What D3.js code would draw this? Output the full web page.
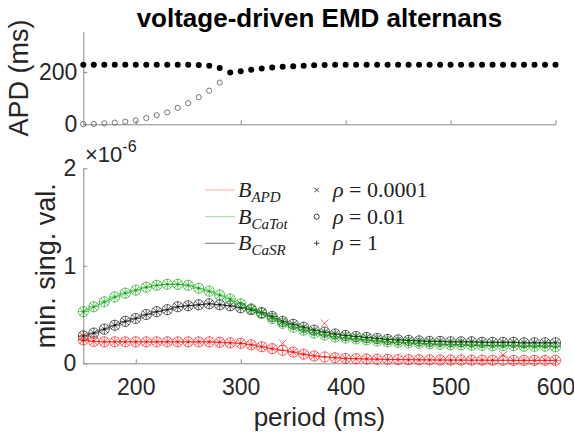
<!DOCTYPE html>
<html>
<head>
<meta charset="utf-8">
<script src="https://cdn.jsdelivr.net/npm/d3@7"></script>
<style>
  body { margin: 0; background: #fff; }
  svg { display: block; font-family: "Liberation Sans", Arial, sans-serif; }
  .axis path, .axis line { stroke: #888; }
  .axis text { fill: #262626; }
</style>
</head>
<body>
<div id="chart"></div>
<script>
// pacing periods (ms)
const periods = [150, 160, 170, 180, 190, 200, 210, 220, 230, 240,
    250, 260, 270, 280, 290, 300, 310, 320, 330, 340,
    350, 360, 370, 380, 390, 400, 410, 420, 430, 440,
    450, 460, 470, 480, 490, 500, 510, 520, 530, 540,
    550, 560, 570, 580, 590, 600];

// top panel: APD of long and short beats (ms)
const apdLong = [228, 228, 228, 228, 228, 228, 228, 228, 228, 228,
    228, 227, 224, 216, 199, 203, 209, 214, 218, 221,
    223, 224.5, 226, 227, 228, 228, 228, 228, 228, 228,
    228, 228, 228, 228, 228, 228, 228, 228, 228, 228,
    228, 228, 228, 228, 228, 228];
const shortPeriods = [150, 160, 170, 180, 190, 200, 210, 220, 230, 240, 250, 260, 270, 280];
const apdShort = [0.5, 1.5, 4, 6.5, 10, 15, 24, 35, 46, 63, 81, 104, 129, 160];

// bottom panel: minimal singular values (x 1e-6)
const bApd = [0.24, 0.225, 0.22, 0.22, 0.22, 0.22, 0.22, 0.22, 0.22, 0.22,
    0.22, 0.22, 0.22, 0.215, 0.21, 0.205, 0.19, 0.17, 0.15, 0.133,
    0.115, 0.093, 0.075, 0.065, 0.057, 0.05, 0.047, 0.044, 0.042, 0.04,
    0.038, 0.037, 0.036, 0.035, 0.034, 0.033, 0.033, 0.032, 0.032, 0.031,
    0.031, 0.03, 0.03, 0.03, 0.03, 0.03];
const bCaTot = [0.53, 0.58, 0.63, 0.68, 0.72, 0.75, 0.78, 0.80, 0.81, 0.81,
    0.80, 0.77, 0.74, 0.70, 0.66, 0.61, 0.56, 0.51, 0.46, 0.41,
    0.37, 0.34, 0.31, 0.29, 0.27, 0.26, 0.25, 0.24, 0.23, 0.22,
    0.215, 0.21, 0.205, 0.20, 0.195, 0.19, 0.19, 0.185, 0.185, 0.18,
    0.18, 0.18, 0.175, 0.175, 0.175, 0.17];
const bCaSR = [0.28, 0.31, 0.35, 0.39, 0.43, 0.46, 0.50, 0.53, 0.55, 0.58,
    0.59, 0.60, 0.61, 0.60, 0.59, 0.57, 0.55, 0.52, 0.48, 0.43,
    0.40, 0.37, 0.34, 0.32, 0.30, 0.285, 0.275, 0.265, 0.255, 0.245,
    0.24, 0.235, 0.23, 0.225, 0.225, 0.22, 0.22, 0.22, 0.215, 0.215,
    0.215, 0.215, 0.21, 0.21, 0.21, 0.21];
// rho = 0.0001 departs from the others at a few periods (B_APD only)
const lowRhoPeriods = [340, 380, 550];
const lowRhoApd = [0.205, 0.41, 0.085];

const seriesNames = ["APD", "CaTot", "CaSR"];
const seriesColors = ["#ff0000", "#00a000", "#000000"];
const rhoLabels = ["0.0001", "0.01", "1"];
const xTicks = [200, 300, 400, 500, 600];

const W = 574, H = 438;
const left = 83.3, right = 555.5;
const tickFont = 23, labelFont = 27;

const svg = d3.select("#chart").append("svg")
    .attr("width", W)
    .attr("height", H);

const x = d3.scaleLinear().domain([150, 600]).range([left, right]);
const yTop = d3.scaleLinear().domain([0, 355]).range([124.3, 31.7]);
const yBot = d3.scaleLinear().domain([0, 2]).range([363.3, 168.3]);

// title
svg.append("text")
    .attr("x", (left + right) / 2)
    .attr("y", 27)
    .attr("text-anchor", "middle")
    .attr("font-weight", "bold")
    .attr("font-size", 26)
    .attr("fill", "#000")
    .text("voltage-driven EMD alternans");

// ---- top panel ----
const topPanel = svg.append("g");

topPanel.append("g")
    .attr("class", "axis")
    .attr("transform", `translate(0, ${yTop(0)})`)
    .call(d3.axisBottom(x).tickValues(xTicks).tickSizeInner(-4).tickSizeOuter(0).tickFormat(""));

topPanel.append("g")
    .attr("class", "axis")
    .attr("transform", `translate(${left}, 0)`)
    .call(d3.axisLeft(yTop).tickValues([0, 200]).tickSizeInner(-4).tickSizeOuter(0).tickPadding(6))
    .selectAll("text").attr("font-size", tickFont);

topPanel.selectAll("circle.short")
    .data(shortPeriods)
    .enter()
    .append("circle")
    .attr("class", "short")
    .attr("cx", d => x(d))
    .attr("cy", (d, i) => yTop(apdShort[i]))
    .attr("r", 2.6)
    .attr("fill", "none")
    .attr("stroke", "#666")
    .attr("stroke-width", 0.9);

topPanel.selectAll("circle.long")
    .data(periods)
    .enter()
    .append("circle")
    .attr("class", "long")
    .attr("cx", d => x(d))
    .attr("cy", (d, i) => yTop(apdLong[i]))
    .attr("r", 3)
    .attr("fill", "#000");

svg.append("text")
    .attr("transform", `translate(28, ${(yTop.range()[0] + yTop.range()[1]) / 2}) rotate(-90)`)
    .attr("text-anchor", "middle")
    .attr("font-size", labelFont)
    .attr("fill", "#262626")
    .text("APD (ms)");

// ---- bottom panel ----
const botPanel = svg.append("g");

botPanel.append("g")
    .attr("class", "axis")
    .attr("transform", `translate(0, ${yBot(0)})`)
    .call(d3.axisBottom(x).tickValues(xTicks).tickSizeInner(-4).tickSizeOuter(0).tickPadding(15))
    .selectAll("text").attr("font-size", tickFont);

botPanel.append("g")
    .attr("class", "axis")
    .attr("transform", `translate(${left}, 0)`)
    .call(d3.axisLeft(yBot).tickValues([0, 1, 2]).tickFormat(d3.format("d"))
        .tickSizeInner(-4).tickSizeOuter(0).tickPadding(7))
    .selectAll("text").attr("font-size", tickFont);

// exponent label
const expo = svg.append("text")
    .attr("x", 85)
    .attr("y", 162)
    .attr("font-size", 22)
    .attr("fill", "#262626");
expo.append("tspan").text("×10");
expo.append("tspan").attr("font-size", 16).attr("dy", -10).text("-6");

svg.append("text")
    .attr("transform", `translate(55, ${(yBot.range()[0] + yBot.range()[1]) / 2}) rotate(-90)`)
    .attr("text-anchor", "middle")
    .attr("font-size", labelFont)
    .attr("fill", "#262626")
    .text("min. sing. val.");

svg.append("text")
    .attr("x", (left + right) / 2)
    .attr("y", 426)
    .attr("text-anchor", "middle")
    .attr("font-size", 26)
    .attr("fill", "#262626")
    .text("period (ms)");

const seriesValues = [bApd, bCaTot, bCaSR];

function xMark(g, cx, cy, s, color, op) {
    g.append("path")
        .attr("d", `M${cx - s},${cy - s}L${cx + s},${cy + s}M${cx - s},${cy + s}L${cx + s},${cy - s}`)
        .attr("stroke", color).attr("stroke-opacity", op).attr("fill", "none");
}
function plusMark(g, cx, cy, s, color, op) {
    g.append("path")
        .attr("d", `M${cx - s},${cy}L${cx + s},${cy}M${cx},${cy - s}L${cx},${cy + s}`)
        .attr("stroke", color).attr("stroke-opacity", op).attr("fill", "none");
}

const line = d3.line().x(d => x(d[0])).y(d => yBot(d[1]));

[2, 1, 0].forEach(k => {
    const vals = seriesValues[k];
    const color = seriesColors[k];
    const g = botPanel.append("g");
    const pts = periods.map((p, i) => [p, vals[i]]);

    g.append("path")
        .datum(pts)
        .attr("d", line)
        .attr("fill", "none")
        .attr("stroke", color)
        .attr("stroke-opacity", 0.65)
        .attr("stroke-width", 1);

    pts.forEach(d => {
        const cx = x(d[0]), cy = yBot(d[1]);
        g.append("circle")
            .attr("cx", cx).attr("cy", cy).attr("r", 5.1)
            .attr("fill", "none")
            .attr("stroke", color).attr("stroke-opacity", 0.6);
        plusMark(g, cx, cy, 5.3, color, 0.6);
        g.append("circle")
            .attr("cx", cx).attr("cy", cy).attr("r", 1)
            .attr("fill", color).attr("fill-opacity", 0.85);
        // rho = 0.0001 cross
        let yv = d[1];
        const j = lowRhoPeriods.indexOf(d[0]);
        if (k === 0 && j >= 0) yv = lowRhoApd[j];
        xMark(g, cx, yBot(yv), 3.8, color, 0.6);
    });
});

// ---- legend ----
const legend = svg.append("g");
const rowY = [190, 216.7, 243.3];
const subText = ["APD", "CaTot", "CaSR"];
const legendLineColors = ["#ffaaaa", "#99dd99", "#777777"];

rowY.forEach((yy, i) => {
    legend.append("line")
        .attr("x1", 205).attr("x2", 235)
        .attr("y1", yy).attr("y2", yy)
        .attr("stroke", legendLineColors[i]);

    const t = legend.append("text")
        .attr("x", 238)
        .attr("y", yy + 7)
        .attr("font-family", "'Liberation Serif', 'DejaVu Serif', serif")
        .attr("font-style", "italic")
        .attr("font-size", 22)
        .attr("fill", "#222");
    t.append("tspan").text("B");
    t.append("tspan").attr("font-size", 15).attr("dy", 5).text(subText[i]);

    const r = legend.append("text")
        .attr("x", 333)
        .attr("y", yy + 7)
        .attr("font-family", "'Liberation Serif', 'DejaVu Serif', serif")
        .attr("font-size", 22)
        .attr("fill", "#222");
    r.append("tspan").attr("font-style", "italic").text("ρ");
    r.append("tspan").text(" = " + rhoLabels[i]);
});

xMark(legend, 316.7, rowY[0], 2.2, "#444", 1);
legend.append("circle")
    .attr("cx", 316.7).attr("cy", rowY[1]).attr("r", 2.6)
    .attr("fill", "none").attr("stroke", "#444");
plusMark(legend, 316.7, rowY[2], 2.6, "#444", 1);
</script>
</body>
</html>
